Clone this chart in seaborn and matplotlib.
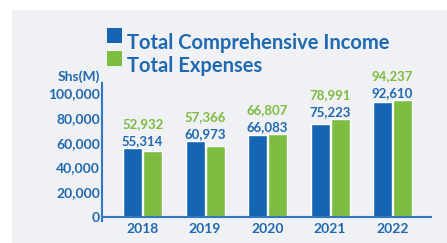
import matplotlib
matplotlib.use('Agg')
import matplotlib.pyplot as plt
from matplotlib.patches import Rectangle
from matplotlib.ticker import FuncFormatter
import pandas as pd
import seaborn as sns

# data
years = ['2018', '2019', '2020', '2021', '2022']
income = [55314, 60973, 66083, 75223, 92610]
expenses = [52932, 57366, 66807, 78991, 94237]
series_names = ['Total Comprehensive Income', 'Total Expenses']
y_ticks = [0, 20000, 40000, 60000, 80000, 100000]

# colours
blue_bar = '#1565b4'
green_bar = '#7cbd42'
blue_txt = '#1f69b1'
green_txt = '#7dbb41'
axis_col = '#2f78c4'
panel_bg = '#f0f1f4'

df = pd.DataFrame({
    'year': years * 2,
    'value': income + expenses,
    'series': [series_names[0]] * len(years) + [series_names[1]] * len(years),
})

sns.set_style('white')
plt.rcParams['font.family'] = ['Lato', 'DejaVu Sans']
plt.rcParams['font.weight'] = 'bold'

W, H = 447, 243
fig = plt.figure(figsize=(W / 100, H / 100), dpi=100, facecolor='white')

# light grey panel behind everything
fig.patches.append(Rectangle((12 / W, 0), 1 - 12 / W, 1 - 10 / H,
                             transform=fig.transFigure, facecolor=panel_bg,
                             edgecolor='none', zorder=-5))

# axes placed in pixel terms
ax_left, ax_right = 102, 432
ax_bot, ax_top = 220.7, 80.6
ax = fig.add_axes([ax_left / W, 1 - ax_bot / H, (ax_right - ax_left) / W, (ax_bot - ax_top) / H])
ax.set_facecolor('none')
ax.set_zorder(2)

sns.barplot(data=df, x='year', y='value', hue='series', palette=[blue_bar, green_bar],
            width=0.64, gap=0.05, saturation=1, legend=False, ax=ax, zorder=2)

ax.set_xlim(-0.65, 4.63)
ax.set_ylim(-3000, 110000)

# spines: left axis only, baseline drawn at zero
for s in ['top', 'right', 'bottom']:
    ax.spines[s].set_visible(False)
ax.spines['left'].set_color(axis_col)
ax.spines['left'].set_linewidth(1.5)
ax.spines['left'].set_bounds(-3000, 108000)
ax.axhline(0, color=axis_col, linewidth=1.5, zorder=3)

ax.set_yticks(y_ticks)
ax.yaxis.set_major_formatter(FuncFormatter(lambda v, p: f'{int(v):,}'))
ax.tick_params(axis='y', direction='in', length=4, width=1.2, color=axis_col,
               labelsize=10, labelcolor=blue_txt, pad=1.5)
ax.tick_params(axis='x', length=0, labelsize=10, labelcolor=blue_txt, pad=2)
for lab in ax.get_xticklabels() + ax.get_yticklabels():
    lab.set_fontweight('bold')
ax.set_xlabel('')
ax.set_ylabel('')

# value labels above each pair of bars
for i, (inc, exp) in enumerate(zip(income, expenses)):
    top = max(inc, exp)
    ax.annotate(f'{inc:,}', (i, top), xytext=(0, 5.3), textcoords='offset points',
                ha='center', va='center', fontsize=9.5, fontweight='bold', color=blue_txt)
    ax.annotate(f'{exp:,}', (i, top), xytext=(0, 17.3), textcoords='offset points',
                ha='center', va='center', fontsize=9.5, fontweight='bold', color=green_txt)

# unit label
fig.text(100 / W, 1 - 81 / H, 'Shs(M)', ha='right', va='baseline',
         fontsize=10, fontweight='bold', color=blue_txt)

# legend drawn by hand to match the stacked layout
for (y0, col, name, base) in [(28, blue_bar, series_names[0], 49), (51, green_bar, series_names[1], 72)]:
    fig.patches.append(Rectangle((107 / W, 1 - (y0 + 15) / H), 15 / W, 15 / H,
                                 transform=fig.transFigure, facecolor=col,
                                 edgecolor='none', zorder=3))
    fig.text(127 / W, 1 - base / H, name, ha='left', va='baseline',
             fontsize=14.5, fontweight='bold', color=blue_txt)

fig.savefig('out.png', dpi=100, facecolor='white')
